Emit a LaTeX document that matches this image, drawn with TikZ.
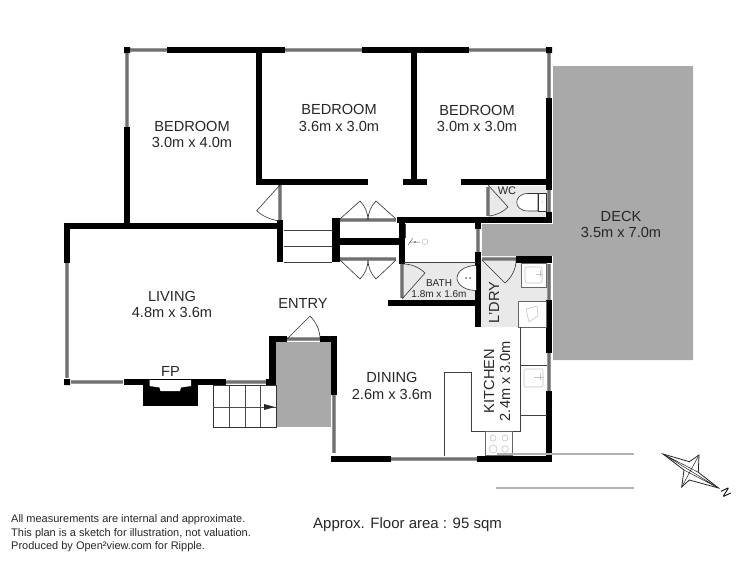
\documentclass[tikz,border=0pt]{standalone}
\usepackage{fontspec}
\setmainfont{Liberation Sans}
\definecolor{deckgray}{HTML}{A9A9A9}
\definecolor{wingray}{HTML}{707070}
\definecolor{roomgray}{HTML}{E9E9E9}
\definecolor{fitgray}{HTML}{C4C4C4}
\tikzset{
 wall/.style={line width=6.5pt,black},
 win/.style={line width=.8pt,draw=black!40,double=wingray,double distance=2.6pt},
 thin line/.style={line width=.9pt,draw=black!75},
 door/.style={line width=.6pt,draw=black!80},
 fitting/.style={line width=.6pt,draw=fitgray},
 lab/.style={font=\fontsize{14.6}{16}\selectfont,text=black!85,inner sep=0pt},
 smalllab/.style={font=\fontsize{10}{12}\selectfont,text=black!85,inner sep=0pt},
 note/.style={font=\fontsize{11}{13}\selectfont,text=black!85,inner sep=0pt,anchor=base west},
}
\begin{document}
\begin{tikzpicture}[x=1pt,y=-1pt]
\useasboundingbox (0,0) rectangle (750,562);
% deck and entry fill
\fill[deckgray] (553,66)--(693,66)--(693,360)--(553,360)--(553,256)--(482,256)--(482,224)--(553,224)--cycle;
\fill[deckgray] (276,342) rectangle (331,427);
% light rooms
\fill[roomgray] (402,262) rectangle (476,300);
\fill[roomgray] (488,186) rectangle (548,217);
\fill[roomgray] (481,259) rectangle (547,327);
% windows
\draw[win] (130,50)--(167,50) (285,50)--(362,50) (469,50)--(546,50);
\draw[win] (127,53)--(127,127) (549,53)--(549,98) (549,190)--(549,212);
\draw[win] (280,185)--(280,220) (340,220)--(396,220) (340,259)--(396,259);
\draw[win] (488,187)--(488,216) (478,229)--(478,252) (402,264)--(402,298);
\draw[win] (482,259)--(516,259) (549,264)--(549,300) (549,353)--(549,391);
\draw[win] (287,339)--(320,339) (334,395)--(334,453) (391,459)--(477,459);
\draw[win] (67,263)--(67,378) (71,382)--(123,382) (226,382)--(266,382);
% walls
\fill (124,47) rectangle (130,53) (546,47) rectangle (552,53) (64,379) rectangle (70,385);
\draw[wall] (167,50)--(285,50) (362,50)--(469,50);
\draw[wall] (127,127)--(127,228);
\draw[wall] (259,50)--(259,182) (256,182)--(368,182) (414,50)--(414,182) (403,182)--(427,182) (461,182)--(552,182);
\draw[wall] (549,98)--(549,190) (549,212)--(549,223) (397,220)--(552,220);
\draw[wall] (63.75,226)--(283,226) (67,223)--(67,263);
\draw[wall] (280,220)--(280,262);
\draw[line width=8pt] (336,218)--(336,262);
\draw[wall] (336,241.5)--(402,241.5) (402,220)--(402,264);
\draw[wall] (478,220)--(478,229) (478,252)--(478,327) (388,303)--(481,303);
\draw[wall] (516,259.5)--(552,259.5) (549,300)--(549,353) (549,391)--(549,462);
\draw[wall] (124,382)--(226,382) (266,382)--(276,382);
\draw[wall] (272.5,336)--(272.5,385) (270,339)--(287,339) (320,339)--(337,339) (334,336)--(334,395);
\draw[wall] (331,459)--(391,459) (477,459)--(552,459);
% fireplace
\fill (142.5,382) rectangle (198,405.7);
\fill[white] (149.5,379.3)--(191,379.3)--(191,386)--(181,387.5)--(180,391)--(160.5,391)--(159.5,387.5)--(149.5,386)--cycle;
\draw[line width=.5pt,black] (149.5,379.3)--(191,379.3);
% closet lines
\draw[thin line] (284,230)--(332,230) (284,246.7)--(332,246.7) (284,262.7)--(332,262.7);
\draw[thin line] (404,262)--(476,262) (405,224)--(405,238);
% doors
\draw[door] (280,185)--(256.7,210.7) .. controls (262,216) and (271,220) .. (280,221);
\draw[door] (340,219)--(360,201) .. controls (365,206) and (368,213) .. (368,220);
\draw[door] (396,219)--(376,201) .. controls (371,206) and (368,213) .. (368,220);
\draw[door] (340,260)--(360,279) .. controls (365,274) and (368,267) .. (368,260);
\draw[door] (396,260)--(376,279) .. controls (371,274) and (368,267) .. (368,260);
\draw[door] (488,185)--(508,207) .. controls (503,212) and (497,215) .. (489,216);
\draw[door] (402,299)--(425,273) .. controls (419,267) and (411,264) .. (403,264);
\draw[door] (482,260)--(505,283) .. controls (512,277) and (516,269) .. (516,260);
\draw[door] (287,339)--(310,316) .. controls (316,322) and (320,330) .. (320,339);
% stairs
\draw[line width=.9pt,draw=black!80] (213.3,385.7) rectangle (276,427.3);
\draw[line width=.7pt,draw=black!70] (229,385.7)--(229,427.3) (245,385.7)--(245,427.3) (260.5,385.7)--(260.5,427.3) (213.3,407)--(276,407);
\fill[black!85] (264,404)--(275,407)--(264,410)--cycle;
% bathroom fittings
\draw[door,fill=white] (476,265.5) arc[start angle=-90,end angle=-270,x radius=19,y radius=12.5];
\fill[black!60] (466,278) circle(1pt) (470,278) circle(1pt);
\draw[fitting] (425,241.7) circle(2.8);
\draw[line width=.5pt,black!60] (408,245)--(413,238) (409,242)--(420,242);
\fill[black!55] (415,242) circle(1.1);
% WC
\draw[door,fill=white] (538,193.5)--(528,193.5) .. controls (513,193.5) and (513,211) .. (528,211)--(538,211)--cycle;
\draw[door,line width=.4pt,fill=white] (538,193)rectangle(546,211);
\fill[black!60] (542,202) circle(.5pt);
\draw[win] (549,193)--(549,211);
% laundry fittings
\draw[door,line width=.5pt,draw=black!60,fill=white] (521,263) rectangle (546,287);
\draw[fitting,rounded corners=2pt] (525,267) rectangle (542,283);
\draw[fitting] (536,274)--(543,274) (540,270)--(540,277);
\draw[door,line width=.5pt,draw=black!60,fill=white] (518,301) rectangle (546,327);
\draw[fitting] (526,309)--(537,306)--(538,316)--(529,322)--cycle;
% kitchen
\draw[thin line] (520.7,327)--(520.7,431)--(471.7,431)--(471.7,372.7)--(444,372.7)--(444,456);
\draw[thin line] (521,365.7)--(547,365.7) (521,415.7)--(547,415.7);
\draw[fitting,rounded corners=2pt] (524,369) rectangle (543,387);
\draw[fitting] (534,377)--(544,377) (540,373)--(540,380);
\draw[door,line width=.5pt,draw=black!60,fill=white] (485.5,431) rectangle (512,455);
\foreach \cx/\cy/\r in {493/438/3,505/438/3,493/449/4,505/449/3.3}{\draw[fitting] (\cx,\cy) circle(\r);}
% outside lines
\draw[line width=1.6pt,black!30] (497,454)--(634,454) (496,488)--(634,488);
% compass
\draw[line width=.8pt,black!85,line join=miter] (663,454)--(689.3,461.7)--(699,455)--(698.3,472.3)--(718.5,488)--(689.3,480)--(681.7,487)--(684,470)--cycle;
\draw[line width=.5pt,black!85] (663,454)--(718.5,488) (699,455)--(681.7,487) (663,454)--(698.3,472.3) (718.5,488)--(684,470);
\node[font=\fontsize{12}{13}\selectfont,rotate=-65,inner sep=0pt] (north) at (726,492.5) {N};
% labels
\node[lab] (b1a) at (192,126) {BEDROOM};
\node[lab] (b1b) at (192,142) {3.0m x 4.0m};
\node[lab] (b2a) at (339,109) {BEDROOM};
\node[lab] (b2b) at (339,126) {3.6m x 3.0m};
\node[lab] (b3a) at (477,110) {BEDROOM};
\node[lab] (b3b) at (477,126) {3.0m x 3.0m};
\node[lab] (deckA) at (621,216) {DECK};
\node[lab] (deckB) at (621,232) {3.5m x 7.0m};
\node[lab] (liva) at (172,296) {LIVING};
\node[lab] (livb) at (172,312) {4.8m x 3.6m};
\node[lab] (entry) at (303,303) {ENTRY};
\node[lab] (fp) at (170.5,371) {FP};
\node[lab] (dina) at (392,377) {DINING};
\node[lab] (dinb) at (392,394) {2.6m x 3.6m};
\node[lab,rotate=90] (kita) at (489,381) {KITCHEN};
\node[lab,rotate=90] (kitb) at (505,381) {2.4m x 3.0m};
\node[lab,rotate=90] (ldry) at (494,302.5) {L'DRY};
\node[smalllab,font=\fontsize{11}{12}\selectfont] (wc) at (507,191) {WC};
\node[smalllab] (batha) at (439,283) {BATH};
\node[smalllab] (bathb) at (439,294) {1.8m x 1.6m};
\node[note] (n1) at (11,522.5) {All measurements are internal and approximate.};
\node[note] (n2) at (11,536) {This plan is a sketch for illustration, not valuation.};
\node[note] (n3) at (11,549.5) {Produced by Open²view.com for Ripple.};
\node[lab,anchor=base west,font=\fontsize{15}{16}\selectfont] (area) at (313,528) {Approx. Floor area : 95 sqm};
\end{tikzpicture}
\end{document}
